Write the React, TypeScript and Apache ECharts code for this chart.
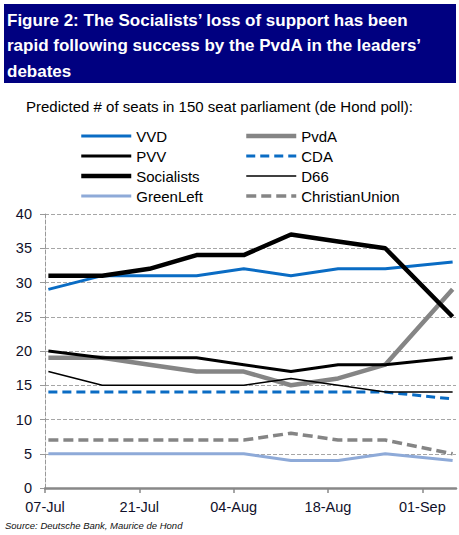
import React, { useEffect, useRef } from "react";
import * as echarts from "echarts";

// ---- data ----
const axisStartDate = "2012-07-07";
const axisEndDate = "2012-09-06";
const pollDates = [
  "2012-07-07", "2012-07-15", "2012-07-22", "2012-07-29", "2012-08-05",
  "2012-08-12", "2012-08-19", "2012-08-26", "2012-09-05",
];
const tickDates = ["2012-07-07", "2012-07-21", "2012-08-04", "2012-08-18", "2012-09-01"];
const tickLabels = ["07-Jul", "21-Jul", "04-Aug", "18-Aug", "01-Sep"];
const yTicks = [0, 5, 10, 15, 20, 25, 30, 35, 40];

const vvd = [29, 31, 31, 31, 32, 31, 32, 32, 33];
const pvda = [19, 19, 18, 17, 17, 15, 16, 18, 29];
const pvv = [20, 19, 19, 19, 18, 17, 18, 18, 19];
const cda = [14, 14, 14, 14, 14, 14, 14, 14, 13];
const socialists = [31, 31, 32, 34, 34, 37, 36, 35, 25];
const d66 = [17, 15, 15, 15, 15, 16, 15, 14, 14];
const greenLeft = [5, 5, 5, 5, 5, 4, 4, 5, 4];
const christianUnion = [7, 7, 7, 7, 7, 8, 7, 7, 5];

const TITLE = "Figure 2: The Socialists\u2019 loss of support has been\nrapid following success by the PvdA in the leaders\u2019\ndebates";
const SUBTITLE = "Predicted # of seats in 150 seat parliament (de Hond poll):";
const SOURCE = "Source: Deutsche Bank, Maurice de Hond";

const FONT = "'Liberation Sans', Arial, sans-serif";
const DAY = 86400000;
const dayOf = (d: string) => (Date.parse(d) - Date.parse(axisStartDate)) / DAY;

type Spec = { name: string; data: number[]; color: string; width: number; dash?: number[] };
const specs: Spec[] = [
  { name: "VVD", data: vvd, color: "#0a6cc4", width: 3 },
  { name: "PvdA", data: pvda, color: "#858585", width: 4.5 },
  { name: "PVV", data: pvv, color: "#000000", width: 3 },
  { name: "CDA", data: cda, color: "#0a6cc4", width: 3, dash: [9, 5] },
  { name: "Socialists", data: socialists, color: "#000000", width: 4.5 },
  { name: "D66", data: d66, color: "#000000", width: 1.5 },
  { name: "GreenLeft", data: greenLeft, color: "#8eaad8", width: 3 },
  { name: "ChristianUnion", data: christianUnion, color: "#858585", width: 3.5, dash: [10, 5] },
];

export default function App() {
  const ref = useRef<HTMLDivElement>(null);
  useEffect(() => {
    if (!ref.current) return;
    const chart = echarts.init(ref.current, undefined, { renderer: "svg" });
    const series = specs.map((s) => ({
      name: s.name,
      type: "line",
      symbol: "none",
      data: s.data.map((v, i) => [dayOf(pollDates[i]) + 0.5, v]),
      lineStyle: { color: s.color, width: s.width, type: s.dash ? s.dash : "solid" },
      itemStyle: { color: s.color },
      z: 3,
    }));
    const legendItem = (s: Spec) => ({
      name: s.name,
      lineStyle: { width: s.width, color: s.color, type: s.dash ? s.dash : "solid" },
      itemStyle: { opacity: 0, color: "rgba(0,0,0,0)", borderWidth: 0 },
    });
    const leftCol = [specs[0], specs[2], specs[4], specs[6]];
    const rightCol = [specs[1], specs[3], specs[5], specs[7]];
    const legendBase = {
      orient: "vertical",
      top: 128,
      itemWidth: 50,
      itemHeight: 14,
      itemGap: 4,
      padding: 0,
      selectedMode: false,
      textStyle: { fontFamily: FONT, fontSize: 15, color: "#000", lineHeight: 16 },
    };
    chart.setOption({
      animation: false,
      backgroundColor: "#ffffff",
      graphic: [
        { type: "rect", left: 4, top: 4, shape: { width: 452, height: 79 }, style: { fill: "#000080" }, z: 0 },
        {
          type: "text", left: 5, top: 520,
          style: { text: SOURCE, fontFamily: FONT, fontSize: 9.5, fontStyle: "italic", fill: "#111" },
        },
      ],
      title: [
        {
          text: TITLE, left: 7, top: 8, padding: 0,
          textStyle: { fontFamily: FONT, fontSize: 17, fontWeight: "bold", color: "#ffffff", lineHeight: 25.3 },
          z: 5,
        },
        {
          text: SUBTITLE, left: 26, top: 98, padding: 0,
          textStyle: { fontFamily: FONT, fontSize: 15, fontWeight: "normal", color: "#000", lineHeight: 16 },
        },
      ],
      legend: [
        { ...legendBase, left: 79, data: leftCol.map(legendItem) },
        { ...legendBase, left: 244, data: rightCol.map(legendItem) },
      ],
      grid: { left: 45, right: 3, top: 214, bottom: 47 },
      xAxis: {
        type: "value",
        min: 0,
        max: dayOf(axisEndDate),
        splitLine: { show: false },
        axisLine: { show: true, onZero: false, lineStyle: { color: "#888", width: 2.5 } },
        axisTick: {
          show: true, length: 5, lineStyle: { color: "#888", width: 1.5 },
          customValues: tickDates.map(dayOf),
        },
        axisLabel: {
          customValues: tickDates.map(dayOf),
          formatter: (v: number) => {
            const i = tickDates.map(dayOf).indexOf(v);
            return i >= 0 ? tickLabels[i] : "";
          },
          fontFamily: FONT, fontSize: 14.5, color: "#10102a", margin: 11,
        },
      },
      yAxis: {
        type: "value",
        min: 0,
        max: 40,
        interval: 5,
        axisLine: { show: true, lineStyle: { color: "#999", width: 1, type: [4, 2] } },
        axisTick: { show: true, length: 5, lineStyle: { color: "#999", width: 1 }, customValues: yTicks },
        splitLine: { show: true, lineStyle: { color: "#a6a6a6", width: 1.2, type: [4, 2] } },
        axisLabel: { fontFamily: FONT, fontSize: 14.5, color: "#10102a", margin: 13 },
      },
      series,
    });
    return () => chart.dispose();
  }, []);
  return (
    <div
      ref={ref}
      style={{ position: "absolute", left: 0, top: 0, width: 459, height: 535 }}
    />
  );
}
